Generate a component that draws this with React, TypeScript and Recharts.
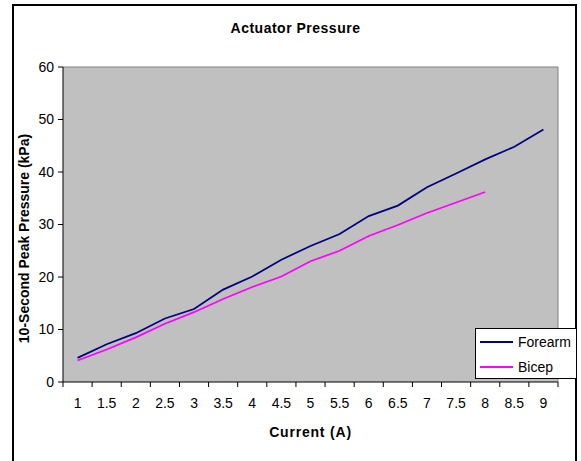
import React from 'react';
import {
  LineChart,
  Line,
  XAxis,
  YAxis,
  CartesianGrid,
  Legend,
  ReferenceLine,
} from 'recharts';

const FONT = '"Liberation Sans", Arial, sans-serif';

// data
const currents = [1, 1.5, 2, 2.5, 3, 3.5, 4, 4.5, 5, 5.5, 6, 6.5, 7, 7.5, 8, 8.5, 9];
const forearm = [4.6, 7.2, 9.3, 12.1, 13.9, 17.6, 20.1, 23.3, 25.9, 28.2, 31.6, 33.6, 37.1, 39.7, 42.4, 44.8, 48.1];
const bicep = [4.1, 6.2, 8.5, 11.1, 13.3, 15.8, 18.1, 20.1, 23.0, 25.0, 27.8, 29.9, 32.2, 34.2, 36.2];
const yTicks = [0, 10, 20, 30, 40, 50, 60];
const seriesOrder = ['Forearm', 'Bicep'];

const data = currents.map((c, i) => ({
  current: c,
  forearm: forearm[i],
  bicep: i < bicep.length ? bicep[i] : null,
}));

// excel style: tick marks between categories, labels in the middle
const xBounds = [...currents.map((c) => c - 0.25), currents[currents.length - 1] + 0.25];
const xAllTicks = [...xBounds, ...currents].sort((a, b) => a - b);

const XTick = (props: any) => {
  const { x, y, payload } = props;
  const v = payload.value;
  if (currents.includes(v)) {
    return (
      <text x={x} y={y + 26} textAnchor="middle" fontSize={14} fill="#000" fontFamily={FONT}>
        {v}
      </text>
    );
  }
  return <line x1={x} x2={x} y1={y} y2={y + 5} stroke="#000" strokeWidth={1} />;
};

const renderLegend = (props: any) => {
  const items = [...props.payload].sort(
    (a: any, b: any) => seriesOrder.indexOf(a.value) - seriesOrder.indexOf(b.value)
  );
  return (
    <div
      style={{
        width: 102,
        height: 51,
        background: '#fff',
        border: '1px solid #000',
        fontFamily: FONT,
        fontSize: 14,
        boxSizing: 'border-box',
        overflow: 'hidden',
      }}
    >
      {items.map((p: any) => (
        <div key={p.value} style={{ display: 'flex', alignItems: 'center', height: 25 }}>
          <div style={{ width: 33, height: 2, background: p.color, marginLeft: 4, marginRight: 5 }} />
          <span>{p.value}</span>
        </div>
      ))}
    </div>
  );
};

export default function App() {
  return (
    <div style={{ position: 'absolute', left: 0, top: 0, width: 581, height: 461, background: '#fff', overflow: 'hidden' }}>
      {/* chart area border */}
      <div
        style={{
          position: 'absolute',
          left: 12,
          top: 4,
          width: 565,
          height: 480,
          border: '2px solid #000',
          boxSizing: 'border-box',
        }}
      />
      <div
        style={{
          position: 'absolute',
          left: 0,
          width: 591,
          top: 20,
          textAlign: 'center',
          fontFamily: FONT,
          fontWeight: 'bold',
          fontSize: 14,
          letterSpacing: 0.5,
        }}
      >
        Actuator Pressure
      </div>
      <div style={{ position: 'absolute', left: 0, top: 0 }}>
        <LineChart
          width={581}
          height={461}
          data={data}
          margin={{ top: 67, right: 0, bottom: 0, left: 0 }}
        >
          <CartesianGrid horizontal={false} vertical={false} fill="#C0C0C0" />
          <XAxis
            dataKey="current"
            type="number"
            domain={[0.75, 9.25]}
            ticks={xAllTicks}
            interval={0}
            tick={<XTick />}
            tickLine={false}
            tickSize={0}
            tickMargin={0}
            height={79}
            axisLine={{ stroke: '#000' }}
            label={{
              value: 'Current (A)',
              position: 'insideBottom',
              offset: 24,
              style: { fontFamily: FONT, fontWeight: 'bold', fontSize: 14, fill: '#000', letterSpacing: 0.8 },
            }}
          />
          <YAxis
            domain={[0, 60]}
            ticks={yTicks}
            interval={0}
            width={63}
            tickSize={5}
            tickMargin={4}
            tick={{ fontFamily: FONT, fontSize: 14, fill: '#000' }}
            tickLine={{ stroke: '#000' }}
            axisLine={{ stroke: '#000' }}
            label={{
              value: '10-Second Peak Pressure (kPa)',
              angle: -90,
              position: 'insideLeft',
              offset: 24,
              dy: 14,
              style: { fontFamily: FONT, fontWeight: 'bold', fontSize: 14, fill: '#000', textAnchor: 'middle' },
            }}
          />
          <YAxis
            yAxisId="frame"
            orientation="right"
            domain={[0, 60]}
            width={23}
            tick={false}
            tickLine={false}
            axisLine={{ stroke: '#808080' }}
          />
          <ReferenceLine y={60} stroke="#808080" />
          <Line
            dataKey="forearm"
            name="Forearm"
            stroke="#000080"
            strokeWidth={1.75}
            dot={false}
            isAnimationActive={false}
          />
          <Line
            dataKey="bicep"
            name="Bicep"
            stroke="#FF00FF"
            strokeWidth={1.75}
            dot={false}
            isAnimationActive={false}
          />
          <Legend
            layout="vertical"
            align="center"
            verticalAlign="middle"
            content={renderLegend}
            wrapperStyle={{ position: 'absolute', left: 475, top: 328, width: 102, height: 51 }}
          />
        </LineChart>
      </div>
    </div>
  );
}
